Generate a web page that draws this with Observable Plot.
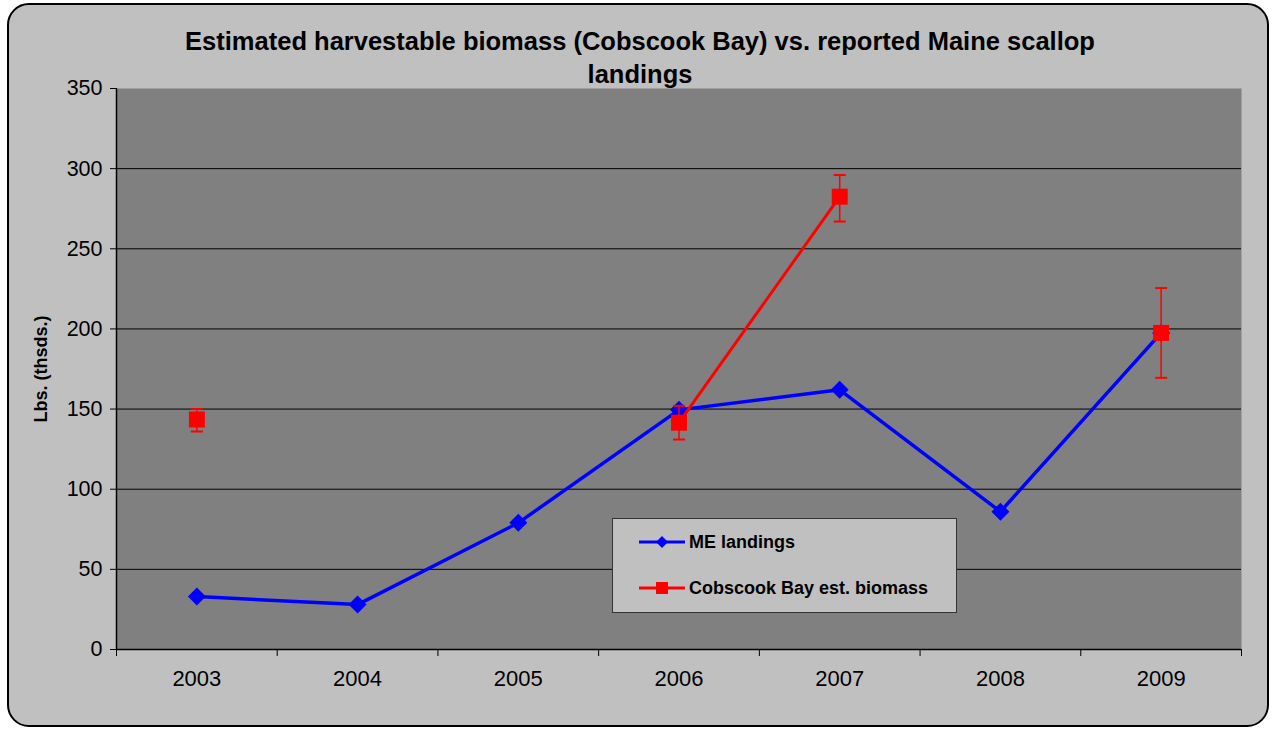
<!DOCTYPE html>
<html>
<head>
<meta charset="utf-8">
<script src="https://cdn.jsdelivr.net/npm/d3@7"></script>
<script src="https://cdn.jsdelivr.net/npm/@observablehq/plot@0.6"></script>
<style>
  html, body { margin: 0; padding: 0; background: #ffffff; }
  #wrap { position: relative; width: 1275px; height: 729px; overflow: hidden; font-family: "Liberation Sans", Arial, sans-serif; }
  #bg { position: absolute; left: 7px; top: 3px; width: 1258px; height: 720px; background: #c0c0c0; border: 2px solid #000; border-radius: 22px; }
  #title { position: absolute; left: 0; top: 25px; width: 1280px; text-align: center; font-weight: bold; font-size: 25.5px; line-height: 33px; color: #000; }
  #chart { position: absolute; left: 0; top: 0; }
  #legend { position: absolute; left: 612px; top: 518px; width: 343px; height: 93px; background: #c0c0c0; border: 1px solid #333; }
  .li { position: absolute; left: 25px; height: 24px; display: flex; align-items: center; font-weight: bold; font-size: 18px; color: #000; }
  .li svg { margin-right: 3px; }
</style>
</head>
<body>
<div id="wrap">
  <div id="bg"></div>
  <div id="chart"></div>
  <div id="title">Estimated harvestable biomass (Cobscook Bay) vs. reported Maine scallop<br>landings</div>
  <div id="legend">
    <div class="li" style="top:11px"><svg width="48" height="20"><line x1="1" y1="10" x2="47" y2="10" stroke="#0000ff" stroke-width="3"/><path d="M24,4L30,10L24,16L18,10Z" fill="#0000ff"/></svg>ME landings</div>
    <div class="li" style="top:57px"><svg width="48" height="20"><line x1="1" y1="10" x2="47" y2="10" stroke="#ff0000" stroke-width="3"/><rect x="18" y="4" width="12" height="12" fill="#ff0000"/></svg>Cobscook Bay est. biomass</div>
  </div>
</div>
<script>
// ---- data ----
const years = [2003, 2004, 2005, 2006, 2007, 2008, 2009];
const meLandings = [33, 28, 79, 149.5, 162, 86, 197.5];
const cobscookBiomass = [143.5, null, null, 141.5, 282.5, null, 197.5];
const cobscookLow  = [136, null, null, 131, 267, null, 169.5];
const cobscookHigh = [150, null, null, 152, 296, null, 225.5];
const yTicks = [0, 50, 100, 150, 200, 250, 300, 350];
const gridTicks = [50, 100, 150, 200, 250, 300];
const yLabel = "Lbs. (thsds.)";

// ---- tables ----
const land = years.map((y, i) => ({year: y, value: meLandings[i]}));
const bio = years.map((y, i) => ({year: y, value: cobscookBiomass[i]}));
const err = years.map((y, i) => ({year: y, lo: cobscookLow[i], hi: cobscookHigh[i]})).filter(d => d.lo != null);
const xDomain = [years[0] - 0.5, years[years.length - 1] + 0.5];
const boundaries = [...years.map(y => y - 0.5), years[years.length - 1] + 0.5];

const diamond = { draw(ctx, size) { const h = Math.sqrt(size / Math.PI); ctx.moveTo(0, -h); ctx.lineTo(h, 0); ctx.lineTo(0, h); ctx.lineTo(-h, 0); ctx.closePath(); } };
const square = { draw(ctx, size) { const h = Math.sqrt(size / Math.PI); ctx.rect(-h, -h, 2 * h, 2 * h); } };
const cap = { draw(ctx, size) { const h = Math.sqrt(size / Math.PI); ctx.moveTo(-h, 0); ctx.lineTo(h, 0); } };

const chart = Plot.plot({
  width: 1275,
  height: 729,
  marginLeft: 116,
  marginRight: 34,
  marginTop: 88,
  marginBottom: 80,
  style: { background: "transparent", fontFamily: "'Liberation Sans', Arial, sans-serif", color: "#000" },
  x: { type: "linear", domain: xDomain },
  y: { domain: [0, 350] },
  marks: [
    Plot.frame({ fill: "#808080", stroke: "none" }),
    Plot.gridY(gridTicks, { stroke: "#000", strokeOpacity: 1, strokeWidth: 1 }),
    Plot.ruleY([0], { stroke: "#000", strokeWidth: 1.5 }),
    Plot.ruleX([xDomain[0]], { stroke: "#000", strokeWidth: 1.5 }),
    Plot.axisY({ ticks: yTicks, tickSize: 6, tickPadding: 8, fontSize: 21.5, label: null, stroke: "#000" }),
    Plot.axisX({ ticks: boundaries, tickSize: 7, tickFormat: () => "", label: null, stroke: "#000" }),
    Plot.axisX({ ticks: years, tickSize: 0, tickPadding: 21, tickFormat: d => String(d), fontSize: 22, label: null }),
    Plot.text([yLabel], { frameAnchor: "left", dx: -75, rotate: -90, fontSize: 18, fontWeight: "bold", fill: "#000", textAnchor: "middle" }),
    Plot.line(land, { x: "year", y: "value", stroke: "#0000ff", strokeWidth: 3.5 }),
    Plot.dot(land, { x: "year", y: "value", symbol: diamond, r: 9, fill: "#0000ff", stroke: "none" }),
    Plot.line(bio, { x: "year", y: "value", stroke: "#ff0000", strokeWidth: 3 }),
    Plot.ruleX(err, { x: "year", y1: "lo", y2: "hi", stroke: "#ff0000", strokeWidth: 1.5 }),
    Plot.dot(err, { x: "year", y: "lo", symbol: cap, r: 6, stroke: "#ff0000", strokeWidth: 2 }),
    Plot.dot(err, { x: "year", y: "hi", symbol: cap, r: 6, stroke: "#ff0000", strokeWidth: 2 }),
    Plot.dot(bio.filter(d => d.value != null), { x: "year", y: "value", symbol: square, r: 8, fill: "#ff0000", stroke: "none" })
  ]
});
document.getElementById("chart").appendChild(chart);
</script>
</body>
</html>
